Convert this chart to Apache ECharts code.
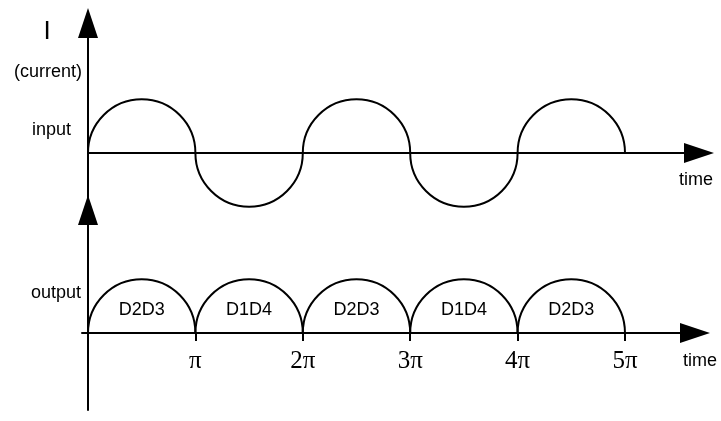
<!DOCTYPE html>
<html>
<head>
<meta charset="utf-8">
<script src="https://cdn.jsdelivr.net/npm/echarts@6/dist/echarts.min.js"></script>
<style>
html, body { margin: 0; padding: 0; background: #fff; }
#box { width: 721px; height: 421px; }
</style>
</head>
<body>
<div id="box"></div>
<script>
// half cycles, in units of pi
var halfStarts = [0, 1, 2, 3, 4];
var inputSigns = [1, -1, 1, -1, 1];
var outputSigns = [1, 1, 1, 1, 1];
var diodeLabels = ['D2D3', 'D1D4', 'D2D3', 'D1D4', 'D2D3'];
var tickValues = [1, 2, 3, 4, 5];
var tickLabels = ['π', '2π', '3π', '4π', '5π'];
var amplitude = 1;

var sans = 'Liberation Sans, Arial, sans-serif';

//画半波
function arch(showText) {
    return function (params, api) {
        var start = api.value(0);
        var sign = api.value(1);
        var a = api.coord([start, 0]);
        var b = api.coord([start + 1, 0]);
        var top = api.coord([start + 0.5, sign * amplitude]);
        var rx = (b[0] - a[0]) / 2;
        var ry = Math.abs(a[1] - top[1]);
        var d = 'M' + a[0] + ' ' + a[1] + ' A' + rx + ' ' + ry + ' 0 0 ' + (sign > 0 ? 1 : 0) + ' ' + b[0] + ' ' + b[1];
        var children = [{
            type: 'path',
            shape: { pathData: d },
            style: { stroke: '#000', lineWidth: 2, fill: 'none' }
        }];
        if (showText) {
            var c = api.coord([start + 0.5, 0.43]);
            children.push({
                type: 'text',
                x: c[0],
                y: c[1],
                style: {
                    text: diodeLabels[params.dataIndex],
                    font: '18px ' + sans,
                    fill: '#000',
                    align: 'center', verticalAlign: 'middle',
                    textAlign: 'center', textVerticalAlign: 'middle'
                }
            });
        }
        return { type: 'group', children: children };
    };
}

function label(text, x, y, size, align) {
    return {
        type: 'text',
        x: x,
        y: y,
        style: {
            text: text,
            font: size + 'px ' + sans,
            fill: '#000',
            align: align, verticalAlign: 'middle',
            textAlign: align, textVerticalAlign: 'middle'
        }
    };
}

var axisLine = {
    lineStyle: { color: '#000', width: 2 },
    symbol: ['none', 'triangle'],
    symbolSize: [20, 30]
};

var option = {
    animation: false,
    grid: [
        { left: 88, right: 22, top: 23, bottom: 211, outerBoundsMode: 'none' },
        { left: 82, right: 26, top: 210, bottom: 11, outerBoundsMode: 'none' }
    ],
    xAxis: [
        {
            gridIndex: 0, type: 'value', min: 0, max: 5.689,
            axisLine: axisLine,
            axisTick: { show: false }, axisLabel: { show: false }, splitLine: { show: false }
        },
        {
            gridIndex: 1, type: 'value', min: -0.0559, max: 5.652,
            position: 'bottom', offset: -77,
            axisLine: { onZero: false, lineStyle: axisLine.lineStyle, symbol: axisLine.symbol, symbolSize: axisLine.symbolSize },
            axisTick: { show: true, length: 8, lineStyle: { color: '#000', width: 2 }, customValues: tickValues },
            axisLabel: {
                show: true, margin: 16, customValues: tickValues,
                fontFamily: 'Liberation Serif, serif', fontSize: 25, color: '#000',
                formatter: function (v) {
                    var i = tickValues.indexOf(Math.round(v));
                    return i < 0 ? '' : tickLabels[i];
                }
            },
            splitLine: { show: false }
        }
    ],
    yAxis: [
        {
            gridIndex: 0, type: 'value', min: -1.061, max: 2.421,
            axisLine: axisLine,
            axisTick: { show: false }, axisLabel: { show: false }, splitLine: { show: false }
        },
        {
            gridIndex: 1, type: 'value', min: -1.4339, max: 2.2905,
            axisLine: axisLine,
            axisTick: { show: false }, axisLabel: { show: false }, splitLine: { show: false }
        }
    ],
    graphic: [
        label('I', 47, 32, 26, 'center'),
        label('(current)', 82, 72, 18, 'right'),
        label('input', 71, 130, 18, 'right'),
        label('output', 81, 293, 18, 'right'),
        label('time', 679, 180, 18, 'left'),
        label('time', 683, 361, 18, 'left')
    ],
    series: [
        {
            type: 'custom', name: 'input', xAxisIndex: 0, yAxisIndex: 0,
            renderItem: arch(false),
            data: halfStarts.map(function (s, i) { return [s, inputSigns[i]]; })
        },
        {
            type: 'custom', name: 'output', xAxisIndex: 1, yAxisIndex: 1,
            renderItem: arch(true),
            data: halfStarts.map(function (s, i) { return [s, outputSigns[i]]; })
        }
    ]
};

var chart = echarts.init(document.getElementById('box'));
chart.setOption(option);
</script>
</body>
</html>
